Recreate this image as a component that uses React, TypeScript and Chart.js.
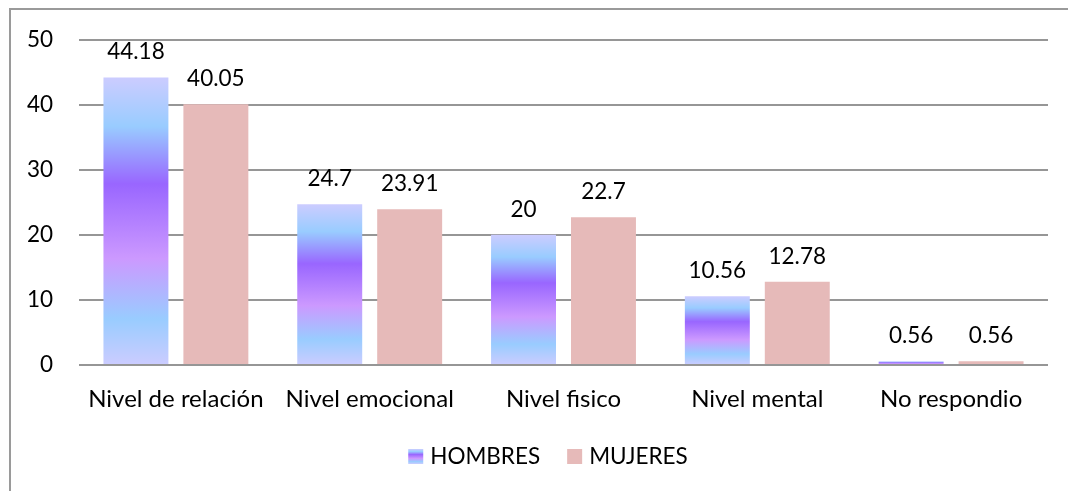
import React, { useEffect, useRef } from "react";
import { Chart, registerables } from "chart.js";

Chart.register(...registerables);

const categories = ["Nivel de relación", "Nivel emocional", "Nivel fisico", "Nivel mental", "No respondio"];
const hombres = [44.18, 24.7, 20, 10.56, 0.56];
const mujeres = [40.05, 23.91, 22.7, 12.78, 0.56];
const seriesNames = ["HOMBRES", "MUJERES"];
const yMin = 0;
const yMax = 50;
const yStep = 10;

const FONT = "Lato";
const FONT_SIZE = 22.5;
const X_FONT_SIZE = 24;
const MUJERES_COLOR = "#E6BAB9";
const GRID_COLOR = "#969696";

const gradientStops: [number, string][] = [
  [0, "#CCCCFF"],
  [0.17, "#99CCFF"],
  [0.37, "#9966FF"],
  [0.63, "#CC99FF"],
  [0.84, "#99CCFF"],
  [1, "#CCCCFF"],
];

function makeGradient(c: CanvasRenderingContext2D, top: number, bottom: number) {
  const g = c.createLinearGradient(0, top, 0, bottom);
  gradientStops.forEach(([o, col]) => g.addColorStop(o, col));
  return g;
}

const hombresFill = (ctx: any) => {
  const chart = ctx.chart;
  const y = chart.scales && chart.scales.y;
  if (ctx.type !== "data" || !y || !ctx.parsed) return "#9966FF";
  const top = y.getPixelForValue(ctx.parsed.y);
  const bottom = y.getPixelForValue(0);
  if (!isFinite(top) || !isFinite(bottom) || Math.abs(bottom - top) < 0.5) return "#9966FF";
  return makeGradient(chart.ctx, top, bottom);
};

const borderPlugin = {
  id: "outerBorder",
  beforeDraw(chart: any) {
    const c = chart.ctx;
    c.save();
    c.strokeStyle = "#9a9a9a";
    c.lineWidth = 2;
    c.strokeRect(10, 9, 1100, 600);
    c.restore();
  },
};

const dataLabelPlugin = {
  id: "dataLabels",
  afterDatasetsDraw(chart: any) {
    const c = chart.ctx;
    c.save();
    c.font = `${FONT_SIZE}px ${FONT}`;
    c.fillStyle = "#000";
    c.textAlign = "center";
    c.textBaseline = "alphabetic";
    chart.data.datasets.forEach((ds: any, di: number) => {
      const meta = chart.getDatasetMeta(di);
      meta.data.forEach((bar: any, i: number) => {
        c.fillText(String(ds.data[i]), bar.x, bar.y - 18);
      });
    });
    c.restore();
  },
};

const legendPlugin = {
  id: "customLegend",
  afterDraw(chart: any) {
    const c = chart.ctx;
    c.save();
    c.font = `${FONT_SIZE}px ${FONT}`;
    const box = 15;
    const gapText = 7;
    const gapItem = 27;
    const widths = seriesNames.map((n) => c.measureText(n).width);
    const total = widths.reduce((a, w) => a + box + gapText + w, 0) + gapItem * (seriesNames.length - 1);
    let x = 548 - total / 2;
    const baseline = 463.5;
    const boxTop = 449;
    seriesNames.forEach((name, i) => {
      c.fillStyle = i === 0 ? makeGradient(c, boxTop, boxTop + box) : MUJERES_COLOR;
      c.fillRect(x, boxTop, box, box);
      c.fillStyle = "#000";
      c.textAlign = "left";
      c.textBaseline = "alphabetic";
      c.fillText(name, x + box + gapText, baseline);
      x += box + gapText + widths[i] + gapItem;
    });
    c.restore();
  },
};

export default function App() {
  const ref = useRef<HTMLCanvasElement | null>(null);
  useEffect(() => {
    if (!ref.current) return;
    const chart = new Chart(ref.current, {
      type: "bar",
      data: {
        labels: categories,
        datasets: [
          { label: seriesNames[0], data: hombres, backgroundColor: hombresFill, borderWidth: 0 },
          { label: seriesNames[1], data: mujeres, backgroundColor: MUJERES_COLOR, borderWidth: 0 },
        ],
      },
      options: {
        responsive: false,
        animation: false,
        devicePixelRatio: 1,
        layout: { padding: { left: 0, right: 20, top: 38, bottom: 0 } },
        datasets: { bar: { categoryPercentage: 0.825, barPercentage: 0.8125 } },
        plugins: { legend: { display: false }, tooltip: { enabled: false } },
        scales: {
          x: {
            grid: { display: false, drawTicks: false },
            border: { display: false },
            ticks: { color: "#000", font: { family: FONT, size: X_FONT_SIZE }, padding: 20, maxRotation: 0, autoSkip: false },
            afterFit: (s: any) => { s.height = 126; },
          },
          y: {
            min: yMin,
            max: yMax,
            grid: { color: GRID_COLOR, lineWidth: 2, drawTicks: false },
            border: { display: false },
            ticks: { stepSize: yStep, color: "#000", font: { family: FONT, size: FONT_SIZE }, padding: 26 },
            afterFit: (s: any) => { s.width = 79; },
          },
        },
      },
      plugins: [borderPlugin, dataLabelPlugin, legendPlugin],
    });
    return () => chart.destroy();
  }, []);
  return (
    <div style={{ position: "fixed", left: 0, top: 0, width: 1068, height: 491, background: "#fff" }}>
      <canvas ref={ref} width={1068} height={491} style={{ display: "block" }} />
    </div>
  );
}
